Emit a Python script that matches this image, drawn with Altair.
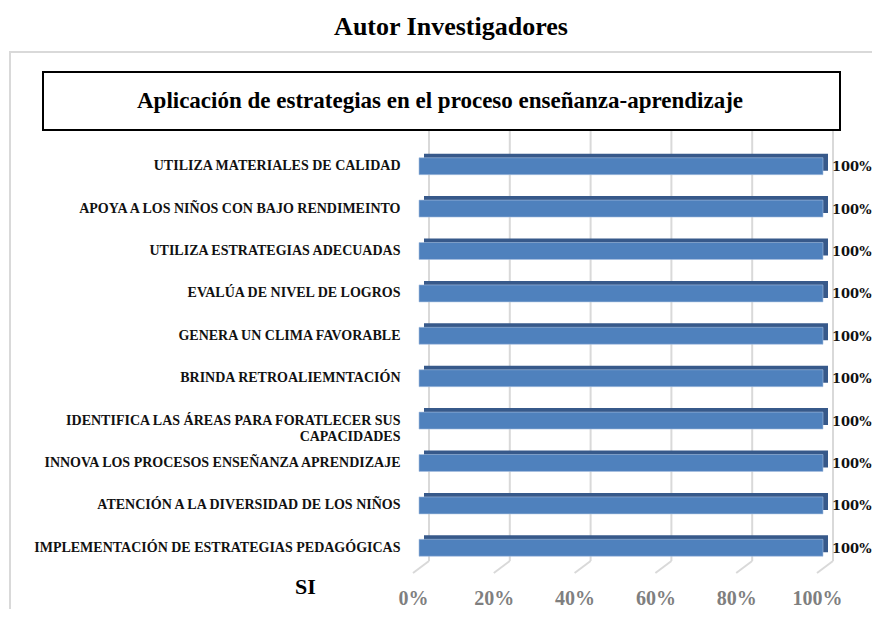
import altair as alt
import pandas as pd

categories = [
    "UTILIZA MATERIALES DE CALIDAD",
    "APOYA A LOS NIÑOS CON BAJO RENDIMEINTO",
    "UTILIZA ESTRATEGIAS ADECUADAS",
    "EVALÚA DE NIVEL DE LOGROS",
    "GENERA UN CLIMA FAVORABLE",
    "BRINDA RETROALIEMNTACIÓN",
    "IDENTIFICA LAS ÁREAS PARA FORATLECER SUS|CAPACIDADES",
    "INNOVA LOS PROCESOS ENSEÑANZA APRENDIZAJE",
    "ATENCIÓN A LA DIVERSIDAD DE LOS NIÑOS",
    "IMPLEMENTACIÓN DE ESTRATEGIAS PEDAGÓGICAS",
]
values = [100, 100, 100, 100, 100, 100, 100, 100, 100, 100]
ticks = [0, 20, 40, 60, 80, 100]

main_title = "Autor Investigadores"
box_title = "Aplicación de estrategias en el proceso enseñanza-aprendizaje"
series_name = "SI"

df = pd.DataFrame({"cat": categories, "val": values})
tick_df = pd.DataFrame({"t": ticks})
one = pd.DataFrame({"a": [0]})

SERIF = "Liberation Serif"

x_scale = alt.Scale(domain=[0, 100], nice=False, zero=True)
y_scale = alt.Scale(domain=categories, paddingInner=0.6, paddingOuter=0.3)

x_axis = alt.Axis(
    values=ticks, grid=False, domain=False, ticks=False, title=None,
    labelOffset=-16, labelPadding=19, labelFont=SERIF, labelFontWeight="bold",
    labelFontSize=20, labelColor="#7f7f7f", labelExpr="datum.value + '%'",
    labelFlush=False, labelOverlap=False,
)
y_axis = alt.Axis(
    domain=False, ticks=False, grid=False, labelPadding=29, labelFont=SERIF,
    labelFontSize=14, labelFontWeight="bold", labelColor="#111111",
    labelExpr="split(datum.label, '|')", labelLineHeight=16, labelLimit=600,
    title=series_name, titleAngle=0, titleX=-124, titleY=441, titleFont=SERIF,
    titleFontSize=22, titleFontWeight="bold", titleColor="#000000",
    titleAlign="center", titleBaseline="middle",
)

X = lambda f: alt.X(f, scale=x_scale, axis=x_axis)
Y = lambda f: alt.Y(f, scale=y_scale, sort=categories, axis=y_axis)

frame = alt.Chart(one).mark_rect(fillOpacity=0, stroke="#d9d9d9", strokeWidth=2).encode(
    x=alt.value(-419), x2=alt.value(470), y=alt.value(-93), y2=alt.value(490)
)
titlebox = alt.Chart(one).mark_rect(fill="white", stroke="black", strokeWidth=2).encode(
    x=alt.value(-386), x2=alt.value(411), y=alt.value(-73), y2=alt.value(-15)
)
boxtext = alt.Chart(pd.DataFrame({"s": [box_title]})).mark_text(
    font=SERIF, fontWeight="bold", fontSize=23, color="black", align="center", baseline="middle"
).encode(x=alt.value(11), y=alt.value(-44), text="s:N")
maintext = alt.Chart(pd.DataFrame({"s": [main_title]})).mark_text(
    font=SERIF, fontWeight="bold", fontSize=26, color="black", align="center", baseline="middle"
).encode(x=alt.value(22), y=alt.value(-118), text="s:N")

grid = alt.Chart(tick_df).mark_rule(color="#d9d9d9", strokeWidth=2).encode(
    x=X("t:Q"), y=alt.value(-14), y2=alt.value(416)
)
floor = alt.Chart(tick_df).mark_rule(color="#d9d9d9", strokeWidth=2, x2Offset=-16).encode(
    x=X("t:Q"), x2=alt.X2("t"), y=alt.value(416), y2=alt.value(428)
)

back = alt.Chart(df).mark_bar(color="#37598a", xOffset=-5, x2Offset=-5, yOffset=-4, y2Offset=-4).encode(
    x=X("val:Q"), y=Y("cat:N"),
)
front = alt.Chart(df).mark_bar(color="#4f81bd", xOffset=-10, x2Offset=-10, stroke="#a7c0df", strokeWidth=0.6).encode(
    x=X("val:Q"), y=Y("cat:N"),
)
labels = alt.Chart(df).transform_calculate(lbl="datum.val + '%'").mark_text(
    align="left", baseline="middle", dx=-1, dy=1, font="DejaVu Serif", fontWeight="bold",
    fontSize=13, color="#111111"
).encode(
    x=X("val:Q"), y=Y("cat:N"), text="lbl:N",
)

chart = alt.layer(frame, titlebox, boxtext, maintext, grid, floor, back, front, labels).properties(
    width=404, height=424, autosize="none",
    padding={"left": 421, "top": 137, "right": 39, "bottom": 40},
    background="white",
).configure_view(stroke="transparent")

chart.save("out.html", embed_options={"renderer": "svg", "actions": False})
